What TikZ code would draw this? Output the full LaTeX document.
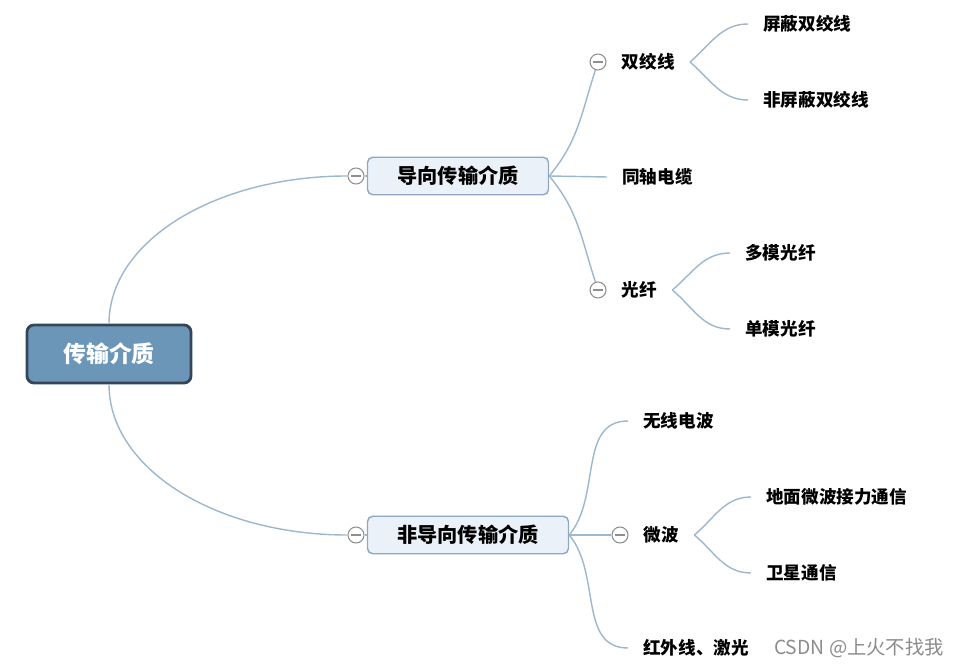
\documentclass[tikz,border=0pt]{standalone}
\usepackage{fontspec}
\setmainfont{Noto Sans CJK SC}
\usetikzlibrary{calc, positioning}
\definecolor{linkblue}{HTML}{9DB8CE}
\definecolor{rootfill}{HTML}{6B96B8}
\definecolor{rootedge}{HTML}{34465A}
\definecolor{topicfill}{HTML}{EBF1F8}
\definecolor{topicedge}{HTML}{8DA8C2}
\definecolor{foldgray}{HTML}{8E8E8E}

\begin{document}
\begin{tikzpicture}[
			root/.style={
				draw=rootedge, line width=1.6pt, fill=rootfill, rounded corners=4pt,
				minimum width=3.28cm, minimum height=1.16cm,
				text=white, font=\fontsize{13}{15}\selectfont\bfseries
			},
			topic/.style={
				draw=topicedge, line width=0.8pt, fill=topicfill, rounded corners=3pt,
				minimum height=0.75cm, font=\fontsize{11.5}{14}\selectfont\bfseries
			},
			leaf/.style={anchor=west, inner xsep=0.3cm, inner ysep=2pt, font=\fontsize{10}{12}\selectfont\bfseries},
			fold/.style={
				circle, draw=foldgray, fill=white, line width=0.6pt,
				minimum size=0.32cm, inner sep=0pt,
				path picture={\draw[foldgray, line width=0.6pt]
					([xshift=1.6pt]path picture bounding box.west) -- ([xshift=-1.6pt]path picture bounding box.east);}
			},
			link/.style={draw=linkblue, line width=0.8pt},
			]
			
			\fill[white] (0,0) rectangle (19.18,-13.32);
			\useasboundingbox (0,0) rectangle (19.18,-13.32);
			
			% ── Root ─────────────────────────────────────────────────────────
			\node[root] (media) at (2.18, -7.08) {传输介质};
			
			% ── Guided ───────────────────────────────────────────────────────
			\node[topic, minimum width=3.62cm] (guided) at (9.16, -3.52) {导向传输介质};
			\node[fold] (guidedfold) at (7.12, -3.52) {};
			
			\node[fold] (twistfold) at (11.96, -1.24) {};
			\node[leaf] (twist) at (twistfold.east) {双绞线};
			\node[leaf] (stp) at (14.96, -0.48) {屏蔽双绞线};
			\node[leaf] (utp) at (14.96, -2.0) {非屏蔽双绞线};
			\node[leaf] (coax) at (12.14, -3.54) {同轴电缆};
			\node[fold] (fiberfold) at (11.96, -5.8) {};
			\node[leaf] (fiber) at (fiberfold.east) {光纤};
			\node[leaf] (mmf) at (14.6, -5.06) {多模光纤};
			\node[leaf] (smf) at (14.6, -6.58) {单模光纤};
			
			\draw[link] (media.north) .. controls +(0,1.65) and +(-2.64,0) .. (guidedfold.west);
			\draw[link] (guidedfold) -- (guided);
			\draw[link] (guided.east) to[out=50, in=-108] (twistfold);
			\draw[link] (guided.east) -- (coax.west);
			\draw[link] (guided.east) to[out=-50, in=108] (fiberfold);
			\draw[link] (twist.east) to[out=40, in=180] (stp.west);
			\draw[link] (twist.east) to[out=-40, in=180] (utp.west);
			\draw[link] (fiber.east) to[out=40, in=180] (mmf.west);
			\draw[link] (fiber.east) to[out=-40, in=180] (smf.west);
			
			% ── Unguided ─────────────────────────────────────────────────────
			\node[topic, minimum width=4.02cm] (unguided) at (9.36, -10.7) {非导向传输介质};
			\node[fold] (unguidedfold) at (7.12, -10.7) {};
			
			\node[leaf] (radio) at (12.56, -8.42) {无线电波};
			\node[fold] (microfold) at (12.4, -10.7) {};
			\node[leaf] (micro) at (microfold.east) {微波};
			\node[leaf] (ground) at (15.02, -9.94) {地面微波接力通信};
			\node[leaf] (sat) at (15.02, -11.46) {卫星通信};
			\node[leaf] (infra) at (12.56, -12.96) {红外线、激光};
			
			\draw[link] (media.south) .. controls +(0,-1.68) and +(-2.64,0) .. (unguidedfold.west);
			\draw[link] (unguidedfold) -- (unguided);
			\draw[link] (unguided.east) to[out=50, in=180] (radio.west);
			\draw[link] (unguided.east) -- (microfold);
			\draw[link] (unguided.east) to[out=-50, in=180] (infra.west);
			\draw[link] (micro.east) to[out=40, in=180] (ground.west);
			\draw[link] (micro.east) to[out=-40, in=180] (sat.west);
			
			% watermark
			\node[text=black!45, font=\fontsize{11}{13}\selectfont] (mark) at (17.18, -12.96) {CSDN @上火不找我};
			
		\end{tikzpicture}
\end{document}
